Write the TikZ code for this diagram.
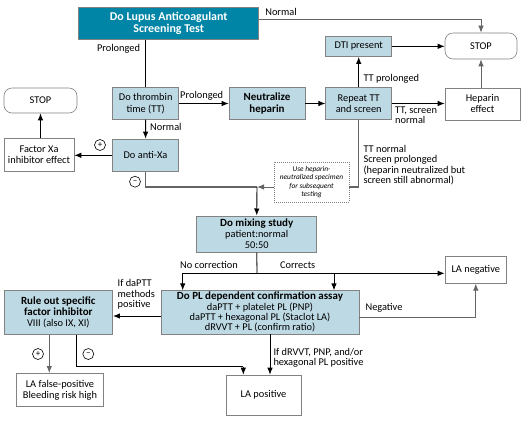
\documentclass[tikz,border=0pt]{standalone}
\usepackage{fontspec}
\setmainfont{Carlito}
\usetikzlibrary{arrows.meta,calc}
\definecolor{tealbox}{RGB}{0,133,166}
\definecolor{lblue}{RGB}{189,217,228}
\definecolor{edgegray}{RGB}{130,130,130}
\definecolor{gline}{RGB}{100,100,100}
\begin{document}
\begin{tikzpicture}[x=1bp,y=-1bp,
  font=\fontsize{10.4}{11.3}\selectfont,
  box/.style={draw=edgegray, line width=0.6bp, inner sep=1bp, align=center},
  bbox/.style={box, fill=lblue},
  wbox/.style={box, fill=white},
  arr/.style={-{Latex[length=7bp,width=5.5bp]}, line width=0.9bp},
  ln/.style={line width=0.9bp},
  gr/.style={draw=gline, line width=1.3bp},
  lab/.style={inner sep=0, align=left},
  bf/.style={font=\fontsize{11}{11.8}\selectfont\bfseries},
  sgn/.style={circle, draw, line width=0.6bp, minimum size=11bp, inner sep=0, fill=white, font=\fontsize{9}{9}\selectfont}]
\useasboundingbox (0,0) rectangle (525,420);

% boxes
\node[box, fill=tealbox, text=white, minimum width=180bp, minimum height=32bp, font=\fontsize{12}{12.5}\selectfont\bfseries] (top) at (168.7,23.3) {Do Lupus Anticoagulant\\Screening Test};
\node[bbox, minimum width=66bp, minimum height=31.6bp] (tt) at (145.7,103.5) {Do thrombin\\time (TT)};
\node[bbox, minimum width=76bp, minimum height=31.6bp, bf] (neut) at (267,103.5) {Neutralize\\heparin};
\node[bbox, minimum width=66bp, minimum height=20.7bp] (dti) at (358.7,46.3) {DTI present};
\node[bbox, minimum width=66bp, minimum height=31.6bp] (rep) at (358.7,103.5) {Repeat TT\\and screen};
\node[wbox, rounded corners=8bp, minimum width=72bp, minimum height=26bp] (stopr) at (481,46) {STOP};
\node[wbox, minimum width=75bp, minimum height=32bp] (hep) at (482.5,103.8) {Heparin\\effect};
\node[wbox, rounded corners=8bp, minimum width=73bp, minimum height=25bp] (stopl) at (40.5,100.5) {STOP};
\node[wbox, minimum width=70bp, minimum height=33.7bp] (fxa) at (39,154.8) {Factor Xa\\inhibitor effect};
\node[bbox, minimum width=65.6bp, minimum height=32.7bp] (axa) at (145.5,155.3) {Do anti-Xa};
\node[wbox, dashed, dash pattern=on 1bp off 1bp, minimum width=75bp, minimum height=40bp, inner sep=0.5bp, font=\fontsize{7.4}{8.6}\selectfont\itshape] (dash) at (311.5,182) {Use heparin-\\neutralized specimen\\for subsequent\\testing};
\node[bbox, minimum width=120bp, minimum height=36bp] (mix) at (256.7,233.8) {\textbf{\fontsize{11}{11.8}\selectfont Do mixing study}\\patient:normal\\50:50};
\node[wbox, minimum width=61.7bp, minimum height=26.7bp] (laneg) at (475.8,270) {LA negative};
\node[bbox, minimum width=198bp, minimum height=43.3bp, font=\fontsize{10.4}{10.4}\selectfont] (pl) at (260,312.3) {\textbf{\fontsize{11}{10.4}\selectfont Do PL dependent confirmation assay}\\daPTT + platelet PL (PNP)\\daPTT + hexagonal PL (Staclot LA)\\dRVVT + PL (confirm ratio)};
\node[bbox, minimum width=108.7bp, minimum height=43.6bp] (rule) at (58.3,312.5) {\textbf{\fontsize{11}{11.8}\selectfont Rule out specific}\\\textbf{\fontsize{11}{11.8}\selectfont factor inhibitor}\\VIII (also IX, XI)};
\node[wbox, minimum width=86.6bp, minimum height=33.4bp] (lafp) at (60,390) {LA false-positive\\Bleeding risk high};
\node[wbox, minimum width=75bp, minimum height=40bp] (lapos) at (263.5,395) {LA positive};

% connectors
\draw[gr, arr] ([yshift=4.3bp]top.east) -| (stopr.north);
\draw[ln] (top.south -| tt.north) -- (tt.north);
\draw[arr] (tt) -- (neut);
\draw[arr] (neut) -- (rep);
\draw[arr] (rep) -- (dti);
\draw[arr] (dti.east) -- (dti.east -| stopr.west);
\draw[arr] (rep.east) -- (rep.east -| hep.west);
\draw[gr, arr] (hep.north -| stopr) -- (stopr.south);
\draw[arr] (tt) -- (axa);
\draw[arr] (axa.west) -- (axa.west -| fxa.east);
\draw[arr] (fxa.north -| stopl) -- (stopl.south);
\coordinate (J) at (257,187);
\draw[gr] (axa.south) |- (J);
\draw[arr] (J) -- (mix.north);
\draw[gr] (rep.south) |- (dash.east |- J);
\draw[gr, arr] (dash.west |- J) -- (J);
\coordinate (S) at (257,273.3);
\coordinate (NC) at (182.7,273.3);
\coordinate (CR) at (334,273.3);
\draw[gr] (mix.south) -- (S);
\draw[arr] (NC) -- (NC -| laneg.west);
\draw[arr] (NC) -- (NC |- pl.north);
\draw[arr] (CR) -- (CR |- pl.north);
\draw[gr, arr] ([yshift=-5.4bp]pl.east) -| (laneg.south);
\draw[arr] ([xshift=10bp]pl.south) -- ([xshift=10bp]pl.south |- lapos.north);
\draw[arr] ([yshift=-3.7bp]pl.west) -- ([yshift=-3.7bp]pl.west -| rule.east);
\draw[gr, arr] ([xshift=-9bp]rule.south) -- ([xshift=-9bp]rule.south |- lafp.north);
\coordinate (R) at (243.3,366.7);
\draw[ln] ([xshift=18.4bp]rule.south) |- (R);
\draw[arr] (R) -- (R |- lapos.north);

% signs
\node[sgn] (s1) at (100,145) {+};
\node[sgn] (s2) at (135,181.7) {–};
\node[sgn] (s3) at (38,354) {+};
\node[sgn] (s4) at (88.3,354) {–};

% labels
\node[lab] (l1) at (281,11.7) {Normal};
\node[lab] (l2) at (118.5,49) {Prolonged};
\node[lab] (l3) at (201.7,95.7) {Prolonged};
\node[lab, anchor=west] (l4) at (363.3,79) {TT prolonged};
\node[lab, anchor=north west, font=\fontsize{10.4}{10}\selectfont] (l5) at (395,107) {TT, screen\\normal};
\node[lab, anchor=west] (l6) at (150,127.3) {Normal};
\node[lab, anchor=north west, font=\fontsize{10.4}{10.4}\selectfont] (l7) at (363.3,145) {TT normal\\Screen prolonged\\(heparin neutralized but\\screen still abnormal)};
\node[lab] (l8) at (209,265) {No correction};
\node[lab] (l9) at (297.7,265) {Corrects};
\node[lab] (l10) at (384,308) {Negative};
\node[lab, font=\fontsize{10.4}{10.8}\selectfont] (l11) at (136.3,294.3) {If daPTT\\methods\\positive};
\node[lab, anchor=north west, font=\fontsize{10.4}{10.5}\selectfont] (l12) at (273.3,348) {If dRVVT, PNP, and/or\\hexagonal PL positive};
\end{tikzpicture}
\end{document}
